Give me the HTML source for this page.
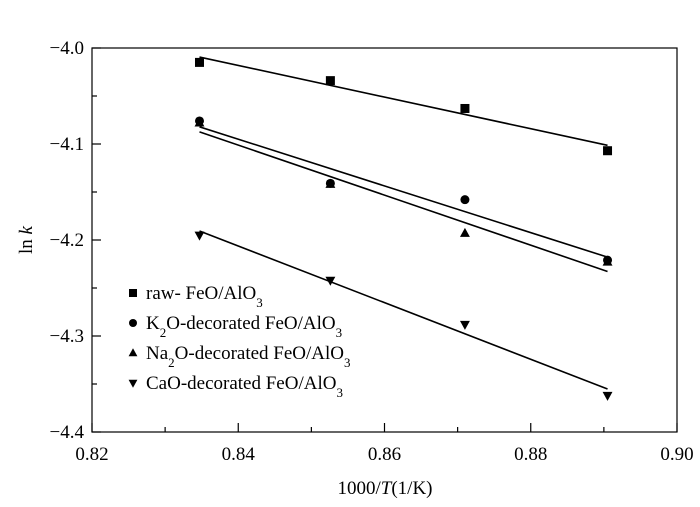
<!DOCTYPE html>
<html><head><meta charset="utf-8"><style>
body{margin:0;background:#fff;}
svg{display:block;font-family:"Liberation Serif",serif;}
</style></head><body>
<svg id="c" width="700" height="507" viewBox="0 0 700 507"></svg>
<script>
const xVals=[0.8347,0.8526,0.8710,0.8905];
const seriesNames=["raw","k2o","na2o","cao"];
const rawVals=[-4.015,-4.034,-4.063,-4.107];
const k2oVals=[-4.076,-4.141,-4.158,-4.221];
const na2oVals=[-4.078,-4.142,-4.193,-4.223];
const caoVals=[-4.195,-4.242,-4.288,-4.362];
const xTicks=[0.82,0.84,0.86,0.88,0.90];
const xTickLabels=["0.82","0.84","0.86","0.88","0.90"];
const yTicks=[-4.0,-4.1,-4.2,-4.3,-4.4];
const yTickLabels=["\u22124.0","\u22124.1","\u22124.2","\u22124.3","\u22124.4"];
const L=92,R=677,T=48,B=432;
const sx=v=>L+(v-0.82)/(0.08)*(R-L);
const sy=v=>T+(-4.0-v)/0.4*(B-T);
const svg=document.getElementById('c');
const NS='http://www.w3.org/2000/svg';
function mk(t,a,p){const e=document.createElementNS(NS,t);for(const k in a)e.setAttribute(k,a[k]);(p||svg).appendChild(e);return e;}
let e=mk('rect',{x:L,y:T,width:R-L,height:B-T,fill:'none',stroke:'#000','stroke-width':1.2});


xTicks.forEach((v,i)=>{
  let t=mk('line',{x1:sx(v),x2:sx(v),y1:B,y2:B-9,stroke:'#000','stroke-width':1.2});
  
  
  if(i<xTicks.length-1){let m=mk('line',{x1:sx(v+0.01),x2:sx(v+0.01),y1:B,y2:B-5,stroke:'#000','stroke-width':1.2});
  
  }
  let l=mk('text',{x:sx(v),y:B+28,'text-anchor':'middle','font-size':19});
  l.textContent=xTickLabels[i];
  
  
});
yTicks.forEach((v,i)=>{
  let t=mk('line',{x1:L,x2:L+9,y1:sy(v),y2:sy(v),stroke:'#000','stroke-width':1.2});
  
  
  if(i<yTicks.length-1){let m=mk('line',{x1:L,x2:L+5,y1:sy(v-0.05),y2:sy(v-0.05),stroke:'#000','stroke-width':1.2});
  
  }
  let l=mk('text',{x:L-8,y:sy(v)+6,'text-anchor':'end','font-size':19});
  l.textContent=yTickLabels[i];
  
  
});
let xt=mk('text',{x:385,y:494,'text-anchor':'middle','font-size':19});
xt.innerHTML='1000/<tspan font-style="italic">T</tspan>(1/K)';


let yt=mk('text',{x:0,y:0,'text-anchor':'middle','font-size':19,transform:'translate(32,240) rotate(-90)'});
yt.innerHTML='ln <tspan font-style="italic">k</tspan>';


function marker(type,x,y,s){
  if(type==='raw')return mk('rect',{x:x-s,y:y-s,width:2*s,height:2*s,fill:'#000'});
  if(type==='k2o')return mk('circle',{cx:x,cy:y,r:s,fill:'#000'});
  if(type==='na2o')return mk('polygon',{points:`${x},${y-s*1.2} ${x-s*1.1},${y+s*0.8} ${x+s*1.1},${y+s*0.8}`,fill:'#000'});
  return mk('polygon',{points:`${x},${y+s*1.2} ${x-s*1.1},${y-s*0.8} ${x+s*1.1},${y-s*0.8}`,fill:'#000'});
}
const all=[rawVals,k2oVals,na2oVals,caoVals];
all.forEach((ys,si)=>{
  const n=xVals.length;const mx=xVals.reduce((a,b)=>a+b)/n,my=ys.reduce((a,b)=>a+b)/n;
  let num=0,den=0;for(let i=0;i<n;i++){num+=(xVals[i]-mx)*(ys[i]-my);den+=(xVals[i]-mx)**2;}
  const b=num/den,a=my-b*mx;
  let ln=mk('line',{x1:sx(xVals[0]),y1:sy(a+b*xVals[0]),x2:sx(xVals[n-1]),y2:sy(a+b*xVals[n-1]),stroke:'#000','stroke-width':1.6});
  
  
  ys.forEach((v,i)=>{
    let m=marker(seriesNames[si],sx(xVals[i]),sy(v),4.5);
    
    
  });
});
const legendLabels=['raw- FeO/AlO<tspan baseline-shift="sub" font-size="13">3</tspan>',
'K<tspan baseline-shift="sub" font-size="13">2</tspan>O-decorated FeO/AlO<tspan baseline-shift="sub" font-size="13">3</tspan>',
'Na<tspan baseline-shift="sub" font-size="13">2</tspan>O-decorated FeO/AlO<tspan baseline-shift="sub" font-size="13">3</tspan>',
'CaO-decorated FeO/AlO<tspan baseline-shift="sub" font-size="13">3</tspan>'];
legendLabels.forEach((h,i)=>{
  const y=293+i*30;
  let m=marker(seriesNames[i],133,y,4);
  
  
  let t=mk('text',{x:146,y:y+6,'font-size':19});
  t.innerHTML=h;
  
  
});
</script>
</body></html>
